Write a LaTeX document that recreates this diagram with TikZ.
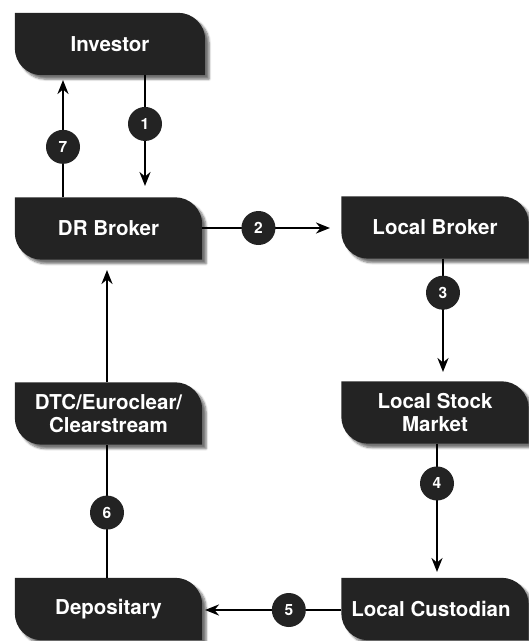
\documentclass[tikz,border=0pt]{standalone}
\usepackage{fontspec}
\setmainfont{TeX Gyre Heros}
\usetikzlibrary{arrows.meta,shadows.blur}
\definecolor{boxc}{HTML}{232323}
\newcommand{\blobshape}[1]{%
  \fill[boxc,blur shadow={shadow xshift=4pt,shadow yshift=-4pt,shadow blur steps=6,shadow opacity=55}]
    (#1.north west) -- ([xshift=-27pt]#1.north east)
    arc[start angle=90,end angle=0,radius=27pt] -- (#1.south east)
    -- ([xshift=27pt]#1.south west)
    arc[start angle=270,end angle=180,radius=27pt] -- cycle;}
\begin{document}
\begin{tikzpicture}[x=1pt,y=1pt,
  boxnode/.style={minimum width=187pt,minimum height=62pt,inner sep=0pt,
    text=white,font=\bfseries\fontsize{20.5}{23}\selectfont,align=center},
  numc/.style={circle,fill=boxc,minimum size=34pt,inner sep=0pt,text=white,
    font=\bfseries\fontsize{15.5}{15.5}\selectfont},
  conn/.style={line width=2.3pt,black},
  arr/.style={conn,-{Stealth[length=14pt,width=11pt]}}]
\useasboundingbox (0,0) rectangle (529,-641);
% boxes (text drawn later, on top of the shapes)
\node[boxnode,minimum width=190pt] (inv) at (110,-44) {};
\node[boxnode] (drb) at (108.5,-228.5) {};
\node[boxnode] (lb) at (435,-227.5) {};
\node[boxnode] (lsm) at (435,-412.5) {};
\node[boxnode] (dtc) at (108.5,-413.5) {};
\node[boxnode] (dep) at (108.5,-609) {};
\node[boxnode] (lc) at (435,-609) {};
\blobshape{inv}\blobshape{drb}\blobshape{lb}\blobshape{lsm}
\blobshape{dtc}\blobshape{dep}\blobshape{lc}
\node[boxnode,minimum width=190pt] at (inv) {Investor};
\node[boxnode] at (drb) {DR Broker};
\node[boxnode] at (lb) {Local Broker};
\node[boxnode] at (lsm) {Local Stock\\Market};
\node[boxnode] at (dtc) {DTC/Euroclear/\\Clearstream};
\node[boxnode] at (dep) {Depositary};
\node[boxnode] at ([xshift=-4pt]lc.center) {Local Custodian};
% free ends
\coordinate (c1) at (145,-186);
\coordinate (c7) at (63,-80);
\coordinate (c2) at (330,-228);
\coordinate (c3) at (443,-372);
\coordinate (c4) at (437,-572);
\coordinate (c5) at (205,-610);
\coordinate (x6) at (107,0);
\coordinate (c8) at (107,-270);
% connectors
\draw[arr] (inv.south -| c1) -- (c1) node[numc,pos=0.44] (n1) {1};
\draw[arr] (drb.north -| c7) -- (c7) node[numc,pos=0.43] (n7) {7};
\draw[arr] (drb.east |- c2) -- (c2) node[numc,pos=0.44] (n2) {2};
\draw[arr] (lb.south -| c3) -- (c3) node[numc,pos=0.30] (n3) {3};
\draw[arr] (lsm.south -| c4) -- (c4) node[numc,pos=0.31] (n4) {4};
\draw[arr] (lc.west |- c5) -- (c5) node[numc,pos=0.385] (n5) {5};
\draw[conn] (dep.north -| x6) -- (dtc.south -| x6) node[numc,pos=0.49] (n6) {6};
\draw[arr] (dtc.north -| c8) -- (c8);
\end{tikzpicture}
\end{document}
